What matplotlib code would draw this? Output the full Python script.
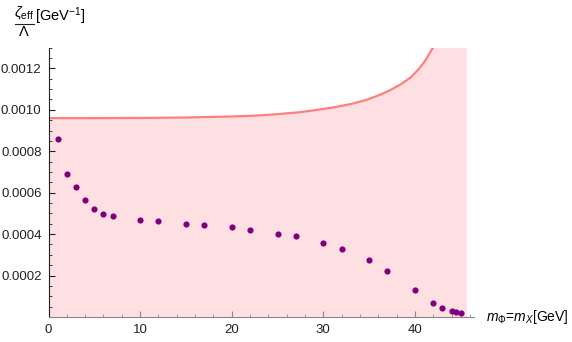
import numpy as np
import matplotlib
matplotlib.use('Agg')
import matplotlib.pyplot as plt
from matplotlib.lines import Line2D
from matplotlib.ticker import MultipleLocator

plt.rcParams['font.family'] = ['Liberation Sans', 'DejaVu Sans']
plt.rcParams['mathtext.fontset'] = 'custom'
plt.rcParams['mathtext.rm'] = 'Liberation Sans'
plt.rcParams['mathtext.it'] = 'Liberation Sans:italic'

# upper bound curve, values above the plot top are clipped
curve_m = [0, 5, 10, 15, 20, 22.5, 25, 27.5, 29, 31, 33, 34.7, 36.2, 37.3, 38.4,
           39.5, 40.4, 41.1, 41.65, 42.1, 42.5, 43.2, 45.6]
curve_z = [0.000960, 0.000960, 0.000961, 0.000963, 0.000968, 0.000972, 0.000979,
           0.000989, 0.000998, 0.001011, 0.001028, 0.001048, 0.001073, 0.001095,
           0.001122, 0.001155, 0.001196, 0.001236, 0.001277, 0.001309, 0.00135,
           0.00150, 0.00150]

# scan points
pts_m = [1, 2, 3, 4, 5, 6, 7, 10, 12, 15, 17, 20, 22, 25, 27, 30, 32, 35, 37,
         40, 42, 43, 44, 44.5, 45]
pts_z = [0.000859, 0.000688, 0.000628, 0.000565, 0.000520, 0.000497, 0.000486,
         0.000470, 0.000462, 0.000450, 0.000444, 0.000433, 0.000421, 0.000403,
         0.000389, 0.000357, 0.000326, 0.000273, 0.000223, 0.000131, 0.0000678,
         0.0000436, 0.0000276, 0.0000228, 0.0000179]

fig = plt.figure(figsize=(5.72, 3.42), dpi=100)
ax = fig.add_axes([0.0848, 0.0731, 0.7439, 0.7874])

ax.fill_between(curve_m, 0, curve_z, color='#ffe0e2', lw=0, zorder=1)
ax.plot(curve_m, curve_z, color='#ff7f7f', lw=1.6, zorder=2)
ax.scatter(pts_m, pts_z, s=20, color='#800080', lw=0, zorder=3)

ax.set_xlim(0, 46.45)
ax.set_ylim(0, 0.0013)

for s in ['top', 'right']:
    ax.spines[s].set_visible(False)
ax.spines['left'].set_color('#222222')
ax.spines['bottom'].set_color('#888888')

ax.xaxis.set_major_locator(MultipleLocator(10))
ax.xaxis.set_minor_locator(MultipleLocator(2))
ax.yaxis.set_major_locator(MultipleLocator(0.0002))
ax.yaxis.set_minor_locator(MultipleLocator(0.00005))
ax.set_yticks([0.0002, 0.0004, 0.0006, 0.0008, 0.0010, 0.0012])
ax.set_yticklabels(['0.0002', '0.0004', '0.0006', '0.0008', '0.0010', '0.0012'])
ax.tick_params(which='both', direction='in', labelsize=9.5, colors='#222222')
ax.tick_params(axis='x', which='both', color='#888888', labelcolor='#222222')
ax.tick_params(which='major', length=4.5, width=0.8, pad=5)
ax.tick_params(which='minor', length=2.5, width=0.6)

# y label written as a stacked fraction
W, H = 572.0, 342.0
fig.text(24.5 / W, 1 - 13 / H, r'$\zeta_{\rm eff}$', fontsize=10.5, ha='center', va='center')
fig.add_artist(Line2D([15 / W, 34 / W], [1 - 24 / H, 1 - 24 / H], color='#222222', lw=0.8))
fig.text(23.5 / W, 1 - 32.5 / H, r'$\Lambda$', fontsize=10.5, ha='center', va='center')
fig.text(35 / W, 1 - 16 / H, r'[GeV$^{-1}$]', fontsize=10.5, ha='left', va='center')

fig.text(486 / W, 0.073, r'$m_\Phi$=$m_X$[GeV]', fontsize=10, va='center', ha='left')

fig.savefig('out.png', dpi=100)
